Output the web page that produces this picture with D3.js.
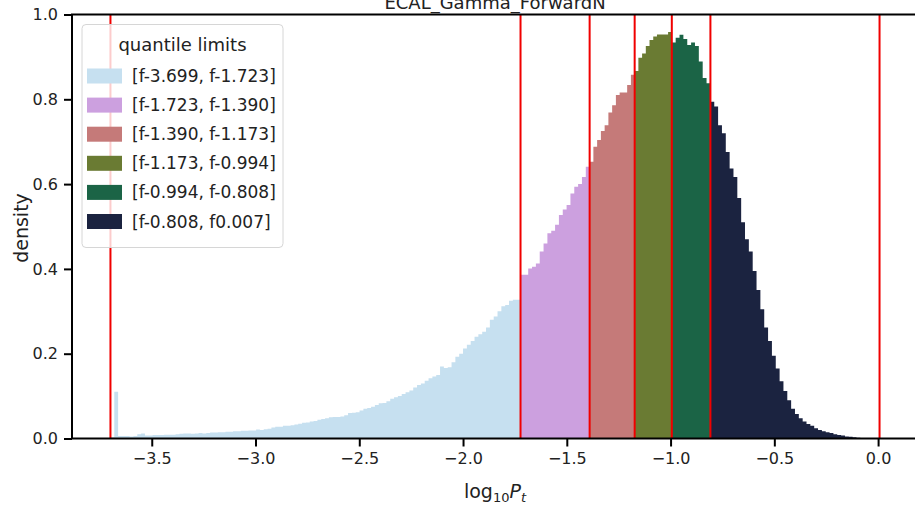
<!DOCTYPE html>
<html>
<head>
<meta charset="utf-8">
<script src="https://cdn.jsdelivr.net/npm/d3@7"></script>
<style>
  body { margin: 0; background: #fff; }
  svg { display: block; font-family: "DejaVu Sans", sans-serif; }
</style>
</head>
<body>
<script>
// quantile limits (log10 Pt)
const limits = [-3.699, -1.723, -1.390, -1.173, -0.994, -0.808, 0.007];
const labels = [
  "[f-3.699, f-1.723]", "[f-1.723, f-1.390]", "[f-1.390, f-1.173]",
  "[f-1.173, f-0.994]", "[f-0.994, f-0.808]", "[f-0.808, f0.007]"
];
// density per bin, one array for each quantile band (bins spread evenly inside the band)
const band1 = [
  0.003, 0.110, 0.006, 0.006, 0.006, 0.005, 0.006, 0.010, 0.012, 0.007,
  0.007, 0.008, 0.008, 0.008, 0.009, 0.009, 0.009, 0.010, 0.011, 0.012,
  0.012, 0.011, 0.012, 0.013, 0.012, 0.013, 0.014, 0.014, 0.015, 0.015,
  0.016, 0.016, 0.017, 0.017, 0.018, 0.018, 0.019, 0.019, 0.021, 0.020,
  0.022, 0.023, 0.026, 0.028, 0.028, 0.030, 0.030, 0.031, 0.033, 0.035,
  0.037, 0.038, 0.040, 0.041, 0.044, 0.046, 0.048, 0.050, 0.051, 0.051,
  0.052, 0.055, 0.060, 0.061, 0.062, 0.066, 0.070, 0.072, 0.075, 0.079,
  0.083, 0.084, 0.088, 0.094, 0.097, 0.100, 0.105, 0.109, 0.113, 0.120,
  0.126, 0.130, 0.136, 0.142, 0.146, 0.150, 0.170, 0.166, 0.168, 0.180,
  0.193, 0.200, 0.212, 0.221, 0.230, 0.240, 0.246, 0.252, 0.262, 0.280,
  0.288, 0.300, 0.312, 0.315, 0.325, 0.327, 0.327
];
const band2 = [
  0.386, 0.386, 0.401, 0.405, 0.413, 0.441, 0.460, 0.484, 0.490, 0.504,
  0.527, 0.540, 0.551, 0.578, 0.594, 0.600, 0.617, 0.641
];
const band3 = [
  0.653, 0.688, 0.704, 0.725, 0.739, 0.769, 0.786, 0.810, 0.816, 0.816,
  0.834, 0.858
];
const band4 = [0.867, 0.898, 0.908, 0.926, 0.940, 0.948, 0.953, 0.953, 0.953, 0.959];
const band5 = [0.934, 0.945, 0.952, 0.942, 0.928, 0.934, 0.926, 0.889, 0.850, 0.838];
const band6 = [
  0.794, 0.783, 0.739, 0.720, 0.676, 0.637, 0.617, 0.567, 0.510, 0.470,
  0.441, 0.395, 0.350, 0.305, 0.262, 0.230, 0.195, 0.165, 0.135, 0.112,
  0.090, 0.070, 0.058, 0.048, 0.040, 0.034, 0.030, 0.024, 0.020, 0.017,
  0.015, 0.013, 0.010, 0.008, 0.007, 0.005, 0.004, 0.003, 0.002, 0.001,
  0.001, 0.000, 0.000, 0.000
];
const bands = [band1, band2, band3, band4, band5, band6];
const xTicks = [-3.5, -3.0, -2.5, -2.0, -1.5, -1.0, -0.5, 0.0];
const yTicks = [0.0, 0.2, 0.4, 0.6, 0.8, 1.0];

const colors = ["#c6e0f0", "#cca0df", "#c57a79", "#6a7b33", "#1b6446", "#1b2340"];

const W = 915, H = 512;
const plotL = 72, plotR = 918, plotT = 14.5, plotB = 438.5;

const svg = d3.select(document.body).append("svg")
  .attr("width", W)
  .attr("height", H);

const span = limits[limits.length - 1] - limits[0];
const x = d3.scaleLinear()
  .domain([limits[0] - 0.05 * span, limits[limits.length - 1] + 0.05 * span])
  .range([plotL, plotR]);
const y = d3.scaleLinear().domain([0, 1]).range([plotB, plotT]);

// histogram bands as step areas
const area = d3.area()
  .x(d => x(d[0]))
  .y0(y(0))
  .y1(d => y(d[1]))
  .curve(d3.curveStepAfter);

bands.forEach((vals, k) => {
  const lo = limits[k], hi = limits[k + 1];
  const w = (hi - lo) / vals.length;
  const pts = vals.map((v, i) => [lo + i * w, v]);
  pts.push([hi, vals[vals.length - 1]]);
  svg.append("path")
    .attr("d", area(pts))
    .attr("fill", colors[k]);
});

// quantile lines
svg.selectAll(".qline")
  .data(limits)
  .enter()
  .append("line")
  .attr("x1", d => x(d))
  .attr("x2", d => x(d))
  .attr("y1", plotT)
  .attr("y2", plotB)
  .attr("stroke", "#f00000")
  .attr("stroke-width", 2);

// axes
const fmt = d => d3.format(".1f")(d).replace("-", "\u2212");
const xAxis = svg.append("g")
  .attr("transform", `translate(0,${plotB})`)
  .call(d3.axisBottom(x).tickValues(xTicks).tickFormat(fmt).tickSize(8).tickPadding(6));
const yAxis = svg.append("g")
  .attr("transform", `translate(${plotL},0)`)
  .call(d3.axisLeft(y).tickValues(yTicks).tickFormat(fmt).tickSize(8).tickPadding(6));
[xAxis, yAxis].forEach(g => {
  g.select(".domain").remove();
  g.selectAll("line").attr("stroke", "#000").attr("stroke-width", 2);
  g.selectAll("text")
    .attr("fill", "#222")
    .style("font-family", "DejaVu Sans")
    .style("font-size", "16px");
});

// spines
svg.append("rect")
  .attr("x", plotL)
  .attr("y", plotT)
  .attr("width", plotR - plotL)
  .attr("height", plotB - plotT)
  .attr("fill", "none")
  .attr("stroke", "#000")
  .attr("stroke-width", 2);

// title (partly cut off at the top, as in the source figure)
svg.append("text")
  .attr("x", (plotL + plotR) / 2)
  .attr("y", 9)
  .attr("text-anchor", "middle")
  .style("font-size", "18px")
  .attr("fill", "#222")
  .text("ECAL_Gamma_ForwardN");

// axis labels
svg.append("text")
  .attr("transform", "translate(28,228) rotate(-90)")
  .attr("text-anchor", "middle")
  .style("font-size", "19px")
  .attr("fill", "#222")
  .text("density");

const xl = svg.append("text")
  .attr("x", (plotL + plotR) / 2)
  .attr("y", 498)
  .attr("text-anchor", "middle")
  .style("font-size", "19px")
  .attr("fill", "#222");
xl.append("tspan").text("log");
xl.append("tspan").attr("dy", 4).style("font-size", "13px").text("10");
xl.append("tspan").attr("dy", -4).style("font-style", "italic").text("P");
xl.append("tspan").attr("dy", 4).style("font-size", "13px").style("font-style", "italic").text("t");

// legend
const lg = svg.append("g");
lg.append("rect")
  .attr("x", 82)
  .attr("y", 24.5)
  .attr("width", 201)
  .attr("height", 223)
  .attr("rx", 4)
  .attr("fill", "#fff")
  .attr("fill-opacity", 0.8)
  .attr("stroke", "#d6d6d6")
  .attr("stroke-width", 1);
lg.append("text")
  .attr("x", 182.5)
  .attr("y", 51)
  .attr("text-anchor", "middle")
  .style("font-size", "18px")
  .attr("fill", "#222")
  .text("quantile limits");
const rows = lg.selectAll(".row")
  .data(labels)
  .enter()
  .append("g")
  .attr("transform", (d, i) => `translate(0,${76 + i * 29.1})`);
rows.append("rect")
  .attr("x", 87)
  .attr("y", -7.5)
  .attr("width", 35)
  .attr("height", 15)
  .attr("fill", (d, i) => colors[i]);
rows.append("text")
  .attr("x", 132)
  .attr("y", 6)
  .style("font-size", "17px")
  .attr("fill", "#222")
  .text(d => d);
</script>
</body>
</html>
